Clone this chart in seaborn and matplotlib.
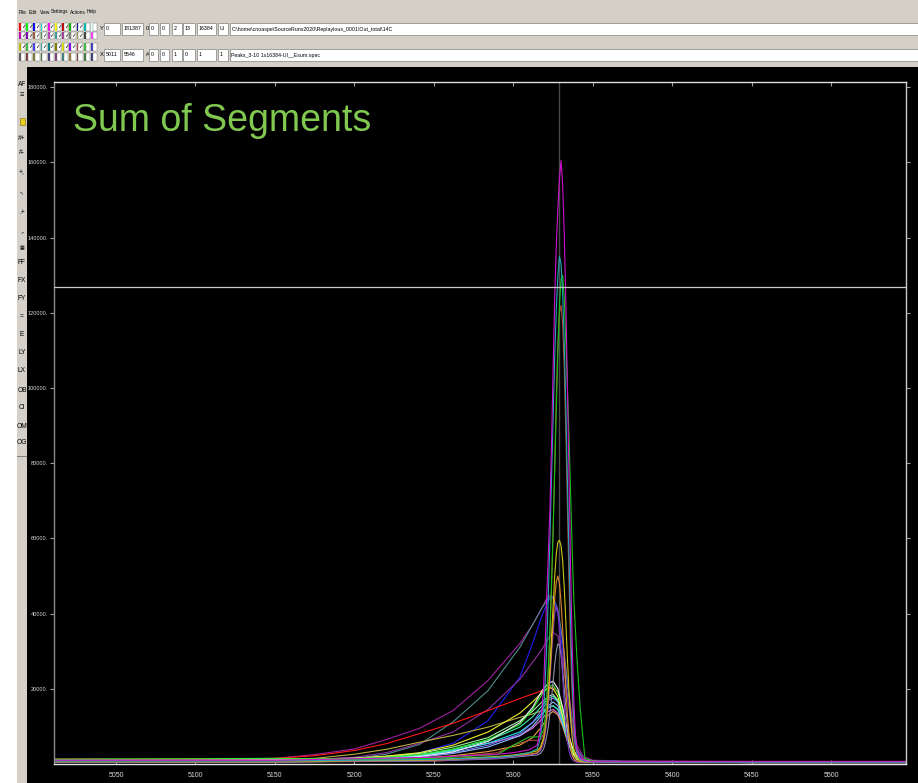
import matplotlib
matplotlib.use("Agg")
import matplotlib.pyplot as plt
from matplotlib.patches import Rectangle
import pandas as pd
import seaborn as sns

# ---------------- data ----------------
TITLE = "Sum of Segments"
XLIM = (5011, 5547)
YLIM = (0, 181387)
X_TICKS = [5050, 5100, 5150, 5200, 5250, 5300, 5350, 5400, 5450, 5500]
Y_TICKS = [20000, 40000, 60000, 80000, 100000, 120000, 140000, 160000, 180000]
CURSOR_X = 5328.4
CURSOR_Y = 126800

# grid for broad spectra
BX = [5011, 5100, 5150, 5175, 5200, 5220, 5241, 5262, 5284, 5304, 5312, 5318,
      5322, 5325, 5328, 5331, 5334, 5337, 5340, 5344, 5350, 5370, 5450, 5547]
# grid for narrow spectra
NX = [5011, 5150, 5250, 5290, 5300, 5310, 5315, 5317, 5319, 5320, 5321, 5322,
      5323, 5324, 5325, 5326, 5327, 5328, 5329, 5330, 5331, 5332, 5333, 5334,
      5335, 5336, 5337, 5338, 5339, 5340, 5342, 5345, 5350, 5380, 5547]

B1_purple = [1200, 1200, 1500, 2500, 4000, 6500, 9500, 14200, 22200, 32000, 37000, 41500,
             45000, 44000, 40000, 33000, 22000, 12000, 5000, 2000, 1000, 800, 700, 700]
B2_slate = [1000, 1000, 1000, 1100, 1500, 2600, 5200, 11200, 19500, 31000, 37000, 41500,
            44000, 44500, 41000, 33000, 21000, 10000, 4000, 1500, 900, 700, 600, 600]
B3_blue = [900, 900, 900, 900, 1200, 1800, 3000, 5500, 11500, 23000, 32000, 39500,
           43500, 44500, 40000, 30000, 18000, 8000, 3000, 1200, 800, 600, 600, 600]
B4_violet = [1000, 1000, 1000, 1200, 1800, 3000, 5500, 8500, 14500, 22500, 27000, 30500,
             33500, 35000, 34000, 28000, 18000, 9000, 3500, 1300, 800, 600, 600, 600]
B5_red = [1300, 1300, 1500, 2200, 3600, 5400, 8100, 10800, 14200, 17400, 18600, 19500,
          20000, 20300, 19200, 15000, 9000, 4500, 2000, 1000, 700, 600, 600, 600]
B6_olive = [1000, 1000, 1200, 1500, 2600, 3900, 5800, 7600, 9800, 12400, 13300, 14200,
            15000, 15500, 14500, 11000, 6500, 3000, 1500, 900, 700, 600, 500, 500]
C1_white = [700, 700, 750, 800, 1000, 1300, 2000, 3200, 6000, 11000, 15000, 19500,
            21500, 22000, 20000, 15000, 9000, 4500, 2000, 1000, 700, 500, 400, 400]
C2_green = [1300, 1400, 1500, 1400, 1500, 1800, 2500, 4000, 6500, 10500, 14500, 18500,
            20500, 21000, 19000, 14000, 8500, 4000, 1800, 900, 600, 500, 400, 400]
C3_yellow = [800, 800, 900, 1100, 1500, 2100, 3000, 5000, 8500, 13500, 16500, 19000,
             20500, 20000, 18000, 13000, 7500, 3500, 1500, 800, 600, 500, 400, 400]
C4_cyan = [800, 800, 800, 900, 1100, 1500, 2200, 3500, 5500, 8500, 11000, 13500,
           15000, 15500, 14500, 11000, 6500, 3000, 1400, 800, 600, 500, 400, 400]
C5_lavender = [700, 700, 700, 800, 1000, 1400, 2000, 3000, 5000, 8000, 11000, 14500,
               17000, 17500, 16500, 12500, 7500, 3500, 1500, 800, 600, 500, 400, 400]
C6_pink = [1000, 1000, 1100, 1300, 1600, 2000, 2500, 3500, 5500, 7500, 9500, 12000,
           14000, 14500, 13500, 10500, 6500, 3000, 1300, 800, 600, 500, 400, 400]
C7_lightgreen = [900, 900, 1000, 1200, 1500, 2000, 2800, 4500, 7000, 11500, 14000, 16500,
                 18000, 18500, 17000, 12500, 7000, 3000, 1300, 800, 600, 500, 400, 400]
C8_lightblue = [600, 600, 600, 700, 900, 1200, 1800, 2800, 4500, 7500, 10000, 13000,
                15500, 16500, 15500, 12000, 7000, 3200, 1400, 800, 600, 500, 400, 400]
C9_orange = [500, 500, 500, 600, 800, 1000, 1500, 2200, 3300, 5000, 7000, 10000,
             13000, 14000, 13000, 10000, 6000, 2800, 1200, 700, 500, 400, 400, 400]
C10_mint = [800, 800, 900, 1000, 1300, 1700, 2300, 3800, 6200, 9800, 12500, 15500,
            17500, 18000, 16800, 12800, 7500, 3300, 1400, 800, 600, 500, 400, 400]

N1_magenta = [1000, 1000, 1800, 2600, 3000, 3800, 5000, 9000, 20000, 32000, 45000, 56000,
              68000, 85000, 105000, 124000, 138000, 148000, 156000, 160500, 154000, 141000,
              123000, 100000, 76000, 52000, 32000, 17000, 8000, 4000, 1500, 900, 600, 600, 600]
N2_teal = [800, 800, 1200, 1800, 2200, 3000, 4000, 7000, 14000, 22000, 32000, 45000,
           60000, 76000, 92000, 108000, 121000, 130000, 135000, 133000, 125000, 112000,
           95000, 75000, 55000, 37000, 22000, 12000, 6000, 3000, 1200, 700, 500, 500, 500]
N3_green = [800, 900, 1500, 2500, 5000, 7200, 7200, 7500, 9000, 12000, 18000, 26000,
            36000, 48000, 62000, 78000, 94000, 110000, 122000, 129000, 130000, 124000,
            112000, 100000, 87000, 72000, 57000, 44000, 36000, 28000, 15000, 1500, 700, 500, 500]
N4_brown = [700, 700, 1500, 3000, 5000, 6300, 6300, 6500, 8000, 11000, 16000, 24000,
            34000, 47000, 62000, 80000, 98000, 112000, 120000, 122000, 117000, 105000,
            88000, 68000, 48000, 31000, 18000, 9000, 4500, 2500, 1200, 700, 500, 500, 500]
N5_olive = [700, 700, 1200, 2000, 2400, 3000, 3500, 4500, 7000, 10000, 14000, 19000,
            26000, 34000, 42000, 50000, 56000, 59000, 59500, 58000, 54000, 47000,
            38000, 28000, 19000, 12000, 7000, 4000, 2200, 1500, 900, 600, 500, 500, 500]
N6_orange = [600, 600, 1000, 1800, 2200, 2600, 3000, 4000, 6500, 9000, 13000, 18000,
             24000, 31000, 38000, 44000, 48500, 50000, 48000, 43000, 36000, 28000,
             20000, 13000, 8000, 4500, 2500, 1500, 1000, 800, 600, 500, 400, 400, 400]
N7_purple = [600, 600, 900, 1500, 2000, 2400, 2800, 3500, 5500, 8000, 11500, 16000,
             22000, 29000, 35000, 40000, 42000, 40500, 36000, 30000, 23000, 16000,
             10000, 6000, 3500, 2000, 1200, 800, 600, 500, 400, 400, 400, 400, 400]
N8_gray = [500, 500, 800, 1400, 1800, 2200, 2400, 2800, 4000, 5500, 7500, 10000,
           13500, 17500, 22000, 26500, 30000, 32000, 31500, 29000, 25000, 20000,
           15000, 10000, 6500, 4000, 2300, 1400, 900, 700, 500, 400, 400, 400, 400]

# ---------------- assemble long table ----------------
series = [
    ("B1", BX, B1_purple, "#A020A0"), ("B2", BX, B2_slate, "#508C8C"),
    ("B3", BX, B3_blue, "#2020F0"), ("B4", BX, B4_violet, "#9030A0"),
    ("B5", BX, B5_red, "#FF1818"), ("B6", BX, B6_olive, "#B8B040"),
    ("C9", BX, C9_orange, "#E0A040"), ("C6", BX, C6_pink, "#F070F0"),
    ("C8", BX, C8_lightblue, "#90B8FF"), ("C4", BX, C4_cyan, "#20E8E8"),
    ("C5", BX, C5_lavender, "#7878F0"), ("C10", BX, C10_mint, "#40F0B0"),
    ("C7", BX, C7_lightgreen, "#A0F0A0"), ("C3", BX, C3_yellow, "#F0F030"),
    ("C2", BX, C2_green, "#30F030"), ("C1", BX, C1_white, "#F0F0F0"),
    ("N8", NX, N8_gray, "#9090B0"), ("N7", NX, N7_purple, "#7838C0"),
    ("N6", NX, N6_orange, "#E08828"), ("N5", NX, N5_olive, "#C8C810"),
    ("N4", NX, N4_brown, "#B04838"), ("N3", NX, N3_green, "#18C018"),
    ("N2", NX, N2_teal, "#20A8B8"), ("N1", NX, N1_magenta, "#D010D0"),
]
rows = []
for name, xs, ys, _ in series:
    for xv, yv in zip(xs, ys):
        rows.append((name, xv, yv))
df = pd.DataFrame(rows, columns=["series", "energy", "counts"])
palette = {name: col for name, _, _, col in series}
order = [name for name, _, _, _ in series]

# ---------------- figure & window chrome ----------------
W, H = 918, 783
fig = plt.figure(figsize=(W / 100, H / 100), dpi=100, facecolor="white")
SMALL = ["Liberation Sans Narrow", "Liberation Sans", "DejaVu Sans"]


def rect(x0, y0, x1, y1, fc, ec="none", lw=0.0, z=-5):
    fig.add_artist(Rectangle((x0 / W, 1 - y1 / H), (x1 - x0) / W, (y1 - y0) / H,
                             transform=fig.transFigure, facecolor=fc,
                             edgecolor=ec, linewidth=lw, zorder=z))


def txt(x, y, s, size, color="black", ha="left", va="center", family=None, z=5):
    return fig.text(x / W, 1 - y / H, s, fontsize=size, color=color, ha=ha, va=va,
                    family=family if family else SMALL, zorder=z)


rect(17, 0, W, 67, "#D4D0C8")
rect(17, 67, 27, H, "#D4D0C8")
rect(27, 67, W, H, "black")

# menu bar
for xm, word in [(19, "File"), (29, "Edit"), (40, "View"), (51, "Settings"),
                 (70, "Actions"), (87, "Help")]:
    txt(xm, 12, word, 3.4)

# colour check boxes
ROW_COLS = [
    ["#FF0000", "#00FF00", "#0000FF", "#00FFFF", "#FF00FF", "#FFFF00", "#C00000",
     "#00C000", "#0000C0", "#00C0C0", "#E0FFFF"],
    ["#C000C0", "#8000C0", "#A06040", "#40A040", "#C040C0", "#40A0A0", "#A040A0",
     "#808080", "#A0A040", "#404040", "#FF40FF"],
    ["#C0C000", "#40C040", "#4040FF", "#40C0C0", "#008080", "#808000", "#E0E000",
     "#8000FF", "#C04040", "#40C040", "#4040C0"],
    ["#606060", "#804040", "#808040", "#408040", "#404080", "#804080", "#408080",
     "#A08040", "#804040", "#408040", "#404080"],
]
ROW_Y = [(23, 30.5), (31.5, 39), (43, 51), (53, 61)]
for r, (ya, yb) in enumerate(ROW_Y):
    for c in range(11):
        x0 = 19 + c * 7.2
        rect(x0, ya, x0 + 1.8, yb, ROW_COLS[r][c], z=-4)
        rect(x0 + 1.8, ya, x0 + 6.2, yb, "white", ec="#707070", lw=0.3, z=-4)
        if r < 3 and c < 9:
            txt(x0 + 4.0, (ya + yb) / 2, "\u2713", 4, ha="center",
                family=["DejaVu Sans"])

# numeric fields
txt(100, 29, "Y", 4.2)
txt(100, 55, "X", 4.2)
txt(146, 29, "0", 4.2)
txt(146, 55, "#", 4.2)
FIELDS = [(104, 120), (122, 143), (149, 158), (160, 169), (172, 182), (183, 195),
          (197, 216), (218, 228), (230, 918)]
Y_FIELDS = ["0", "181387", "0", "0", "2", "13", "16384", "UI",
            "C:\\home\\cnoaspe\\SourceRuns2020\\Replaylous_0001\\Out_total\\14C"]
X_FIELDS = ["5011", "5546", "0", "0", "1", "0", "1", "1",
            "Peaks_3-10 1x16384-UI__Esum.spec"]
for (xa, xb), sy, sx in zip(FIELDS, Y_FIELDS, X_FIELDS):
    rect(xa, 23, xb, 35, "white", ec="#808080", lw=0.5, z=-4)
    rect(xa, 49, xb, 61, "white", ec="#808080", lw=0.5, z=-4)
    txt(xa + 1.5, 29, sy, 3.8)
    txt(xa + 1.5, 55, sx, 3.8)

# left tool strip
TOOLS = [(84, "AF"), (95, "\u2630"), (138, "#+"), (153, "#-"), (173, "+,"),
         (193, "-,"), (212, ".+"), (232, ".-"), (248, "\u25A6"), (263, "FF"),
         (280, "FX"), (298, "FY"), (317, "="), (335, "E"), (353, "LY"),
         (370, "LX"), (390, "OB"), (408, "CI"), (427, "OM"), (443, "OG")]
for yt, lab in TOOLS:
    sym = lab in ("\u2630", "\u25A6")
    txt(22, yt, lab, 3.6 if sym else 4.8, ha="center",
        family=["DejaVu Sans"] if sym else SMALL)
rect(19.5, 118, 25, 125, "#E8D020", ec="#806000", lw=0.4, z=-3)
rect(17, 456, 27, 457, "#808080", z=-3)

# ---------------- plot ----------------
ax = fig.add_axes([54 / W, 1 - 764 / H, (906 - 54) / W, (764 - 82) / H])
ax.set_facecolor("black")
sns.lineplot(data=df, x="energy", y="counts", hue="series", hue_order=order,
             palette=palette, estimator=None, sort=False, legend=False,
             linewidth=0.8, ax=ax)
ax.axvline(CURSOR_X, color="#4A4A4A", linewidth=1.0, zorder=0.5)
ax.axhline(CURSOR_Y, color="#C8C8C8", linewidth=0.9, zorder=3)

ax.set_xlim(*XLIM)
ax.set_ylim(*YLIM)
ax.set_xticks(X_TICKS)
ax.set_xticklabels([str(v) for v in X_TICKS])
ax.set_yticks(Y_TICKS)
ax.set_yticklabels([f"{v}." for v in Y_TICKS])
ax.set_xlabel("")
ax.set_ylabel("")
ax.tick_params(axis="y", which="both", left=True, right=True, direction="out",
               length=3, width=0.8, color="#A0A0A0", labelcolor="#D8D8D8",
               labelsize=5.5, pad=1.5)
ax.tick_params(axis="y", right=True, labelright=False)
ax.tick_params(axis="x", which="both", bottom=True, top=True, direction="in",
               length=3, width=0.8, color="#A0A0A0", labelcolor="#D8D8D8",
               labelsize=5.5, pad=6)
for lab in ax.get_xticklabels() + ax.get_yticklabels():
    lab.set_family(SMALL)
ax.spines["left"].set_color("#8C8C8C")
ax.spines["bottom"].set_color("#E8E8E8")
ax.spines["top"].set_color("#E0E0E0")
ax.spines["right"].set_color("#C8C8C8")
for s in ax.spines.values():
    s.set_linewidth(1.0)
ax.grid(False)

ax.text(73 / W, 1 - 131 / H, TITLE, transform=fig.transFigure,
        fontsize=27, color="#80C850", family=["Liberation Sans", "DejaVu Sans"],
        ha="left", va="baseline")

# fit the small tick labels to the widths seen in the reference
fig.canvas.draw()
rend = fig.canvas.get_renderer()


def fit(labels, target):
    widest = max(t.get_window_extent(rend).width for t in labels)
    if widest > 0:
        for t in labels:
            t.set_fontsize(t.get_fontsize() * target / widest)


fit(ax.get_yticklabels(), 20.0)
fit(ax.get_xticklabels(), 15.5)

fig.savefig("out.png", dpi=100, facecolor=fig.get_facecolor())
